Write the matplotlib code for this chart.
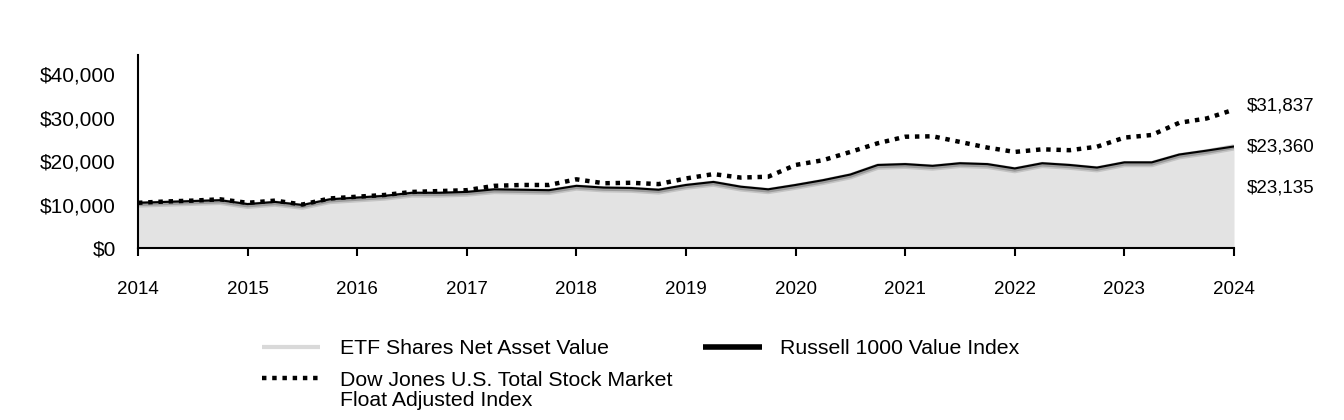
import numpy as np
import matplotlib
matplotlib.use("Agg")
import matplotlib.pyplot as plt
from matplotlib.lines import Line2D

plt.rcParams['font.family'] = ['Liberation Sans', 'DejaVu Sans']

# Quarterly dates 2014 .. 2024
dates = [2014.00, 2014.25, 2014.50, 2014.75,
         2015.00, 2015.25, 2015.50, 2015.75,
         2016.00, 2016.25, 2016.50, 2016.75,
         2017.00, 2017.25, 2017.50, 2017.75,
         2018.00, 2018.25, 2018.50, 2018.75,
         2019.00, 2019.25, 2019.50, 2019.75,
         2020.00, 2020.25, 2020.50, 2020.75,
         2021.00, 2021.25, 2021.50, 2021.75,
         2022.00, 2022.25, 2022.50, 2022.75,
         2023.00, 2023.25, 2023.50, 2023.75,
         2024.00]

etf_nav = [10000, 10200, 10400, 10600,
           9700, 10200, 9500, 10800,
           11200, 11600, 12300, 12300,
           12500, 13100, 13000, 12900,
           13900, 13500, 13400, 13000,
           14100, 14800, 13700, 13100,
           14100, 15200, 16500, 18700,
           18900, 18500, 19100, 18900,
           17900, 19100, 18700, 18100,
           19300, 19300, 21100, 22000,
           23135]

russell_1000_value = [10400, 10600, 10800, 11000,
                      10100, 10600, 9900, 11200,
                      11600, 12000, 12700, 12700,
                      12900, 13500, 13400, 13300,
                      14300, 13900, 13800, 13400,
                      14500, 15200, 14100, 13500,
                      14500, 15600, 16900, 19100,
                      19300, 18900, 19500, 19300,
                      18300, 19500, 19100, 18500,
                      19700, 19700, 21500, 22400,
                      23360]

dow_jones_total = [10400, 10700, 10900, 11200,
                   10400, 10900, 10000, 11400,
                   11800, 12200, 12900, 13100,
                   13300, 14300, 14500, 14500,
                   15800, 14900, 15000, 14700,
                   16000, 17000, 16200, 16400,
                   19100, 20200, 22100, 24100,
                   25600, 25700, 24400, 23100,
                   22100, 22700, 22500, 23300,
                   25400, 26000, 28800, 29800,
                   31837]

year_ticks = [2014, 2015, 2016, 2017, 2018, 2019, 2020, 2021, 2022, 2023, 2024]
y_ticks = [0, 10000, 20000, 30000, 40000]

etf_label = "ETF Shares Net Asset Value"
dow_label_lines = ["Dow Jones U.S. Total Stock Market", "Float Adjusted Index"]
russell_label = "Russell 1000 Value Index"

W, H = 1344, 420
fig = plt.figure(figsize=(W/100, H/100), dpi=100)
ax = fig.add_axes([138/W, 1-248/H, (1234-138)/W, (248-55)/H])

x = np.array(dates)
ax.fill_between(x, 0, etf_nav, color='#e3e3e3', lw=0, zorder=1)
ax.plot(x, etf_nav, color='#c4c4c4', lw=4.5, zorder=2, solid_capstyle='butt')
ax.plot(x, etf_nav, color='#9a9a9a', lw=2.2, zorder=2.1, solid_capstyle='butt')
ax.plot(x, russell_1000_value, color='black', lw=1.5, zorder=3)
dot_style = (0, (1.0, 1.3))
ax.plot(x, dow_jones_total, color='black', lw=3.2, linestyle=dot_style,
        dash_capstyle='butt', zorder=4)

ax.set_xlim(2014, 2024)
ax.set_ylim(0, 44400)
ax.set_xticks(year_ticks)
ax.set_xticklabels([str(y) for y in year_ticks])
ax.set_yticks(y_ticks)
ax.set_yticklabels([f"${v:,.0f}" for v in y_ticks])
ax.tick_params(axis='x', length=6, width=1.5, pad=18, labelsize=13.5, color='black')
ax.tick_params(axis='y', length=0, pad=16, labelsize=15)
for s in ['top', 'right']:
    ax.spines[s].set_visible(False)
ax.spines['left'].set_linewidth(1.5)
ax.spines['bottom'].set_linewidth(1.5)
ax.patch.set_alpha(0)

# End labels
ax.annotate(f"${dow_jones_total[-1]:,.0f}", xy=(dates[-1], dow_jones_total[-1]),
            xytext=(9, 2.5), textcoords='offset points', va='center', ha='left',
            fontsize=13.5, annotation_clip=False)
ax.annotate(f"${russell_1000_value[-1]:,.0f}", xy=(dates[-1], russell_1000_value[-1]),
            xytext=(9, -0.5), textcoords='offset points', va='center', ha='left',
            fontsize=13.5, annotation_clip=False)
ax.annotate(f"${etf_nav[-1]:,.0f}", xy=(dates[-1], etf_nav[-1]),
            xytext=(9, -29), textcoords='offset points', va='center', ha='left',
            fontsize=13.5, annotation_clip=False)

# Legend (drawn in figure pixel positions)
def fx(px):
    return px / W

def fy(py):
    return 1 - py / H

LFS = 15.3
fig.add_artist(Line2D([fx(262), fx(320)], [fy(347), fy(347)], color='#d9d9d9', lw=3,
                      transform=fig.transFigure, solid_capstyle='butt'))
fig.text(fx(340), fy(349), etf_label, fontsize=LFS, va='center', ha='left')

fig.add_artist(Line2D([fx(703), fx(762)], [fy(347), fy(347)], color='black', lw=4,
                      transform=fig.transFigure, solid_capstyle='butt'))
fig.text(fx(780), fy(349), russell_label, fontsize=LFS, va='center', ha='left')

fig.add_artist(Line2D([fx(262), fx(320)], [fy(378), fy(378)], color='black', lw=3.2,
                      linestyle=dot_style, dash_capstyle='butt',
                      transform=fig.transFigure))
fig.text(fx(340), fy(380), dow_label_lines[0], fontsize=LFS, va='center', ha='left')
fig.text(fx(340), fy(401), dow_label_lines[1], fontsize=LFS, va='center', ha='left')

fig.savefig("out.png", dpi=100, facecolor='white')
